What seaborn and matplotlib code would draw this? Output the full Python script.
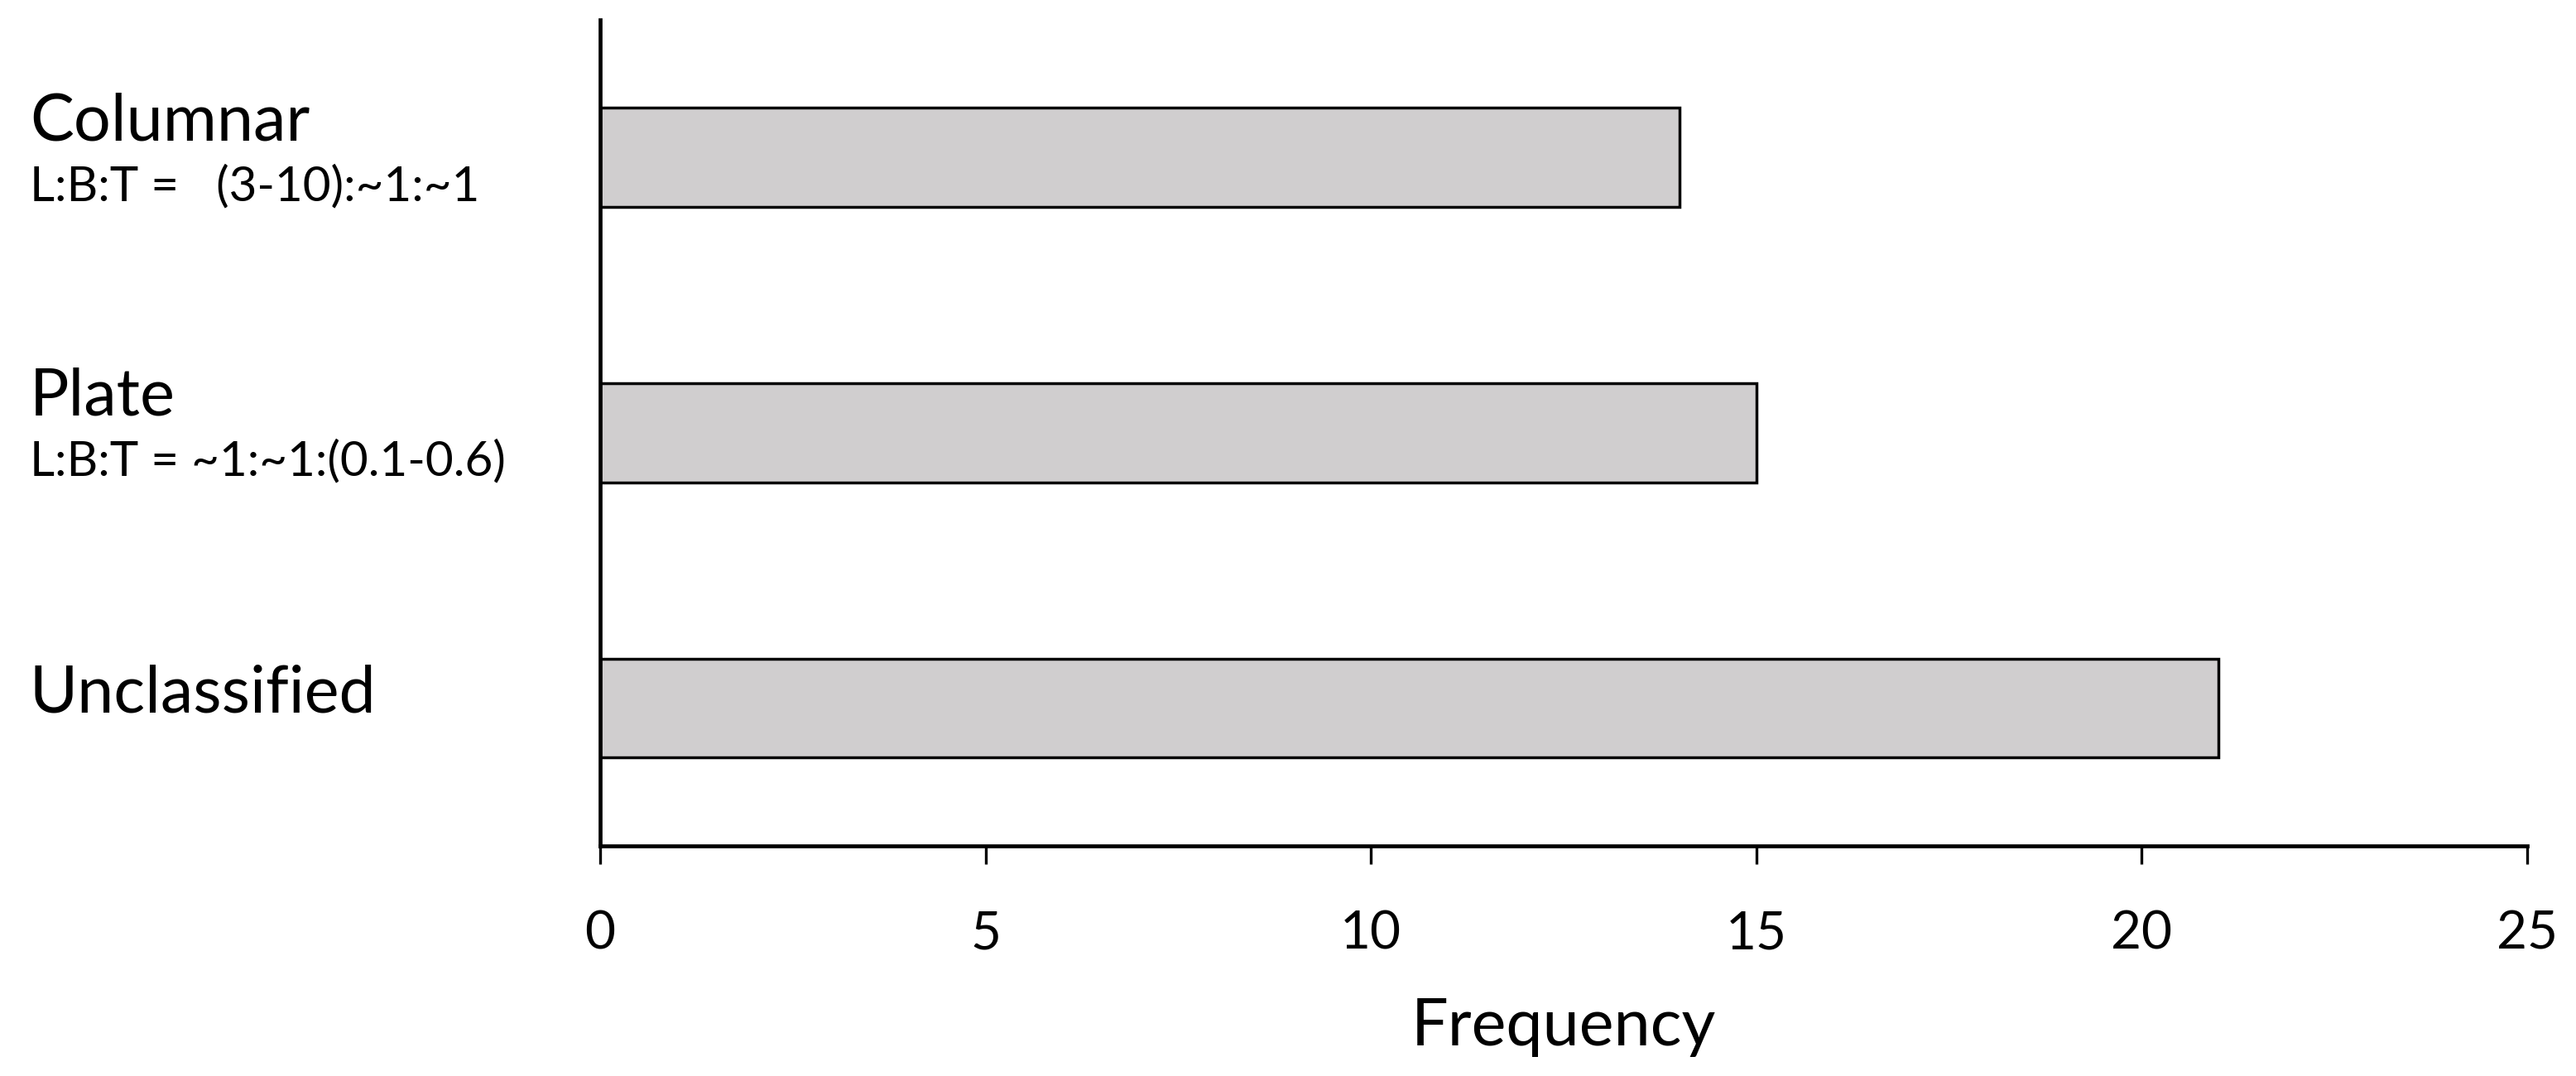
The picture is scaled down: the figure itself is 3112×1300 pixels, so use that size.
import numpy as np
import pandas as pd
import matplotlib.pyplot as plt
import matplotlib.transforms as mtransforms
import seaborn as sns

# data
shapes = ['Columnar', 'Plate', 'Unclassified']
ratios = ['L:B:T =   (3-10):~1:~1', 'L:B:T = ~1:~1:(0.1-0.6)', '']
frequency = [14, 15, 21]
x_ticks = [0, 5, 10, 15, 20, 25]

sns.set_theme(style='white')
plt.rcParams['font.family'] = ['Lato', 'DejaVu Sans']
plt.rcParams['text.color'] = 'black'
plt.rcParams['axes.labelcolor'] = 'black'

df = pd.DataFrame({'shape': shapes, 'frequency': frequency})

fig = plt.figure(figsize=(31.12, 13), dpi=100)
ax = fig.add_axes([0.233, 0.214, 0.748, 0.7675])

sns.barplot(data=df, y='shape', x='frequency', orient='h', ax=ax,
            color='#d0cecf', edgecolor='black', linewidth=2.5, width=0.36,
            saturation=1)

ax.set_xlim(0, 25)
ax.set_ylim(2.5, -0.5)
ax.set_xticks(x_ticks)
ax.set_xticklabels([str(t) for t in x_ticks], fontsize=46)
ax.tick_params(axis='x', direction='out', length=16, width=2.4, pad=40,
               bottom=True, colors='black')
ax.set_yticks([])
ax.set_ylabel('')
ax.set_xlabel('Frequency', fontsize=57, labelpad=34)

for side in ['top', 'right']:
    ax.spines[side].set_visible(False)
for side in ['left', 'bottom']:
    ax.spines[side].set_color('black')
    ax.spines[side].set_linewidth(3.4)

# category labels, drawn at the bar positions
trans = mtransforms.blended_transform_factory(fig.transFigure, ax.transData)
for i, (name, sub) in enumerate(zip(shapes, ratios)):
    if sub:
        ax.text(0.0115, i - 0.13, name, transform=trans, fontsize=57,
                va='center', ha='left', color='black')
        ax.text(0.0115, i + 0.105, sub, transform=trans, fontsize=42,
                va='center', ha='left', color='black')
    else:
        ax.text(0.0115, i - 0.05, name, transform=trans, fontsize=57,
                va='center', ha='left', color='black')

fig.savefig('out.png', dpi=100, facecolor='white')
